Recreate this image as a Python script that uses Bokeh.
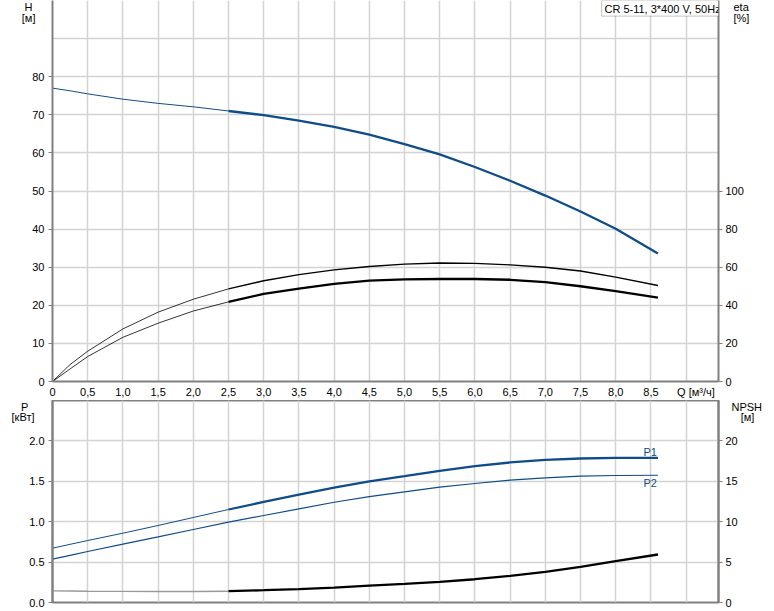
from bokeh.plotting import figure
from bokeh.models import Range1d, LinearAxis, FixedTicker, Label, BoxAnnotation
from bokeh.layouts import column
from bokeh.embed import file_html
from bokeh.resources import INLINE

# ---------------- data ----------------
q = [0, 0.25, 0.5, 1.0, 1.5, 2.0, 2.5, 3.0, 3.5, 4.0, 4.5, 5.0, 5.5, 6.0, 6.5, 7.0, 7.5, 8.0, 8.6]
head = [77.0, 76.3, 75.5, 74.1, 73.0, 72.1, 71.0, 69.9, 68.5, 66.8, 64.8, 62.3, 59.6, 56.3, 52.7, 48.8, 44.6, 40.1, 33.6]
eta_pump = [0, 8.9, 15.9, 27.6, 36.4, 43.2, 48.6, 52.9, 56.1, 58.6, 60.4, 61.6, 62.2, 62.0, 61.2, 60.0, 58.0, 54.8, 50.4]
eta_total = [0, 6.6, 13.1, 23.2, 30.6, 37.0, 41.8, 46.0, 48.8, 51.2, 53.0, 53.6, 53.8, 53.8, 53.4, 52.2, 50.0, 47.4, 44.0]
p1 = [0.672, 0.72, 0.767, 0.858, 0.953, 1.052, 1.151, 1.245, 1.336, 1.423, 1.50, 1.563, 1.629, 1.687, 1.733, 1.765, 1.782, 1.790, 1.790]
p2 = [0.536, 0.584, 0.631, 0.722, 0.812, 0.903, 0.994, 1.077, 1.158, 1.241, 1.31, 1.369, 1.427, 1.473, 1.514, 1.542, 1.563, 1.572, 1.575]
npsh = [1.44, 1.42, 1.40, 1.38, 1.37, 1.37, 1.40, 1.52, 1.65, 1.85, 2.10, 2.31, 2.55, 2.88, 3.29, 3.79, 4.41, 5.11, 5.94]

x_ticks = [0, 0.5, 1.0, 1.5, 2.0, 2.5, 3.0, 3.5, 4.0, 4.5, 5.0, 5.5, 6.0, 6.5, 7.0, 7.5, 8.0, 8.5, 9.14]
x_tick_labels = ["0", "0,5", "1,0", "1,5", "2,0", "2,5", "3,0", "3,5", "4,0", "4,5",
                 "5,0", "5,5", "6,0", "6,5", "7,0", "7,5", "8,0", "8,5", "Q [м³/ч]"]
x_grid = [0.5, 1.0, 1.5, 2.0, 2.5, 3.0, 3.5, 4.0, 4.5, 5.0, 5.5, 6.0, 6.5, 7.0, 7.5, 8.0, 8.5, 9.0]
h_ticks = [0, 10, 20, 30, 40, 50, 60, 70, 80]
h_grid = [10, 20, 30, 40, 50, 60, 70, 80, 90]
eta_ticks = [0, 20, 40, 60, 80, 100]
p_ticks = [0, 0.5, 1.0, 1.5, 2.0]
p_tick_labels = ["0.0", "0.5", "1.0", "1.5", "2.0"]
p_grid = [0.5, 1.0, 1.5, 2.0]
npsh_ticks = [0, 5, 10, 15, 20]

# axis titles, placed as extra tick labels (name above unit)
h_title = {98.7: "H\u00a0", 95.5: "[м]"}
eta_title = {197.4: "eta", 191.0: "[%]"}
p_title = {2.454: "P\u00a0\u00a0", 2.297: "[кВт]"}
npsh_title = {24.54: "NPSH", 22.9: "\u00a0\u00a0\u00a0[м]"}

title_text = "CR 5-11, 3*400 V, 50Hz"

# ---------------- style ----------------
BLUE = "#0f4c8a"
GRID = "#d3d3d3"
AXIS = "#808080"
FONT = "Liberation Sans"
FS = "11px"
XMAX = 9.46
SPLIT = q.index(2.5)


def style_axis(ax, tick_out=4, standoff=4, line=True):
    ax.axis_line_color = AXIS if line else None
    ax.axis_line_width = 2
    ax.major_tick_line_color = AXIS if tick_out > 0 else None
    ax.major_tick_line_width = 1
    ax.major_tick_out = tick_out
    ax.major_tick_in = 0
    ax.minor_tick_line_color = None
    ax.major_label_text_font = FONT
    ax.major_label_text_font_size = FS
    ax.major_label_text_color = "#000000"
    ax.major_label_standoff = standoff


def title_axis(p, labels, standoff, side, y_range_name="default"):
    ticks = list(labels.keys())
    ax = LinearAxis(y_range_name=y_range_name, ticker=FixedTicker(ticks=ticks),
                    major_label_overrides=dict(labels))
    style_axis(ax, 0, standoff, line=False)
    p.add_layout(ax, side)


def base_fig(frame_height, y_range, min_border_bottom, x_loc):
    p = figure(frame_width=666, frame_height=frame_height, x_range=Range1d(0, XMAX), y_range=y_range,
               output_backend="svg", toolbar_location=None, x_axis_location=x_loc,
               min_border_left=52, min_border_right=44, min_border_top=0,
               min_border_bottom=min_border_bottom)
    p.background_fill_color = "white"
    p.border_fill_color = "white"
    p.xgrid.ticker = FixedTicker(ticks=x_grid)
    p.xgrid.grid_line_color = GRID
    p.xgrid.grid_line_width = 1.5
    p.ygrid.grid_line_color = GRID
    p.ygrid.grid_line_width = 1.5
    return p


# ---------------- top: H / eta ----------------
top = base_fig(381, Range1d(0, 100), 19, "below")
top.outline_line_color = None
top.ygrid.ticker = FixedTicker(ticks=h_grid)
top.yaxis.ticker = FixedTicker(ticks=h_ticks)
style_axis(top.yaxis[0], 4, 4)
top.xaxis.ticker = FixedTicker(ticks=x_ticks)
top.xaxis.major_label_overrides = {t: s for t, s in zip(x_ticks, x_tick_labels)}
style_axis(top.xaxis[0], 0, 4)

top.extra_y_ranges = {"eta": Range1d(0, 200)}
eta_axis = LinearAxis(y_range_name="eta", ticker=FixedTicker(ticks=eta_ticks))
style_axis(eta_axis, 4, 3)
top.add_layout(eta_axis, "right")

title_axis(top, h_title, -6, "left")
title_axis(top, eta_title, -13, "right", "eta")

# head curve
top.line(q[:SPLIT + 1], head[:SPLIT + 1], line_color=BLUE, line_width=1)
top.line(q[SPLIT:], head[SPLIT:], line_color=BLUE, line_width=2.3)
# efficiency curves
top.line(q[:SPLIT + 1], eta_pump[:SPLIT + 1], line_color="#000000", line_width=0.8, y_range_name="eta")
top.line(q[SPLIT:], eta_pump[SPLIT:], line_color="#000000", line_width=1.4, y_range_name="eta")
top.line(q[:SPLIT + 1], eta_total[:SPLIT + 1], line_color="#000000", line_width=0.8, y_range_name="eta")
top.line(q[SPLIT:], eta_total[SPLIT:], line_color="#000000", line_width=2.3, y_range_name="eta")

# title box
top.add_layout(BoxAnnotation(left=7.80, right=XMAX, top=100, bottom=95.9,
                             fill_color="white", fill_alpha=1.0,
                             line_color="#404040", line_width=1))
top.add_layout(Label(x=7.84, y=97.9, text=title_text, text_font=FONT, text_font_size=FS,
                     text_color="#000000", text_align="left", text_baseline="middle"))

# ---------------- bottom: P / NPSH ----------------
bot = base_fig(202, Range1d(0, 2.5), 8, None)
bot.outline_line_color = AXIS
bot.outline_line_width = 2
bot.ygrid.ticker = FixedTicker(ticks=p_grid)
bot.yaxis.ticker = FixedTicker(ticks=p_ticks)
bot.yaxis.major_label_overrides = {t: s for t, s in zip(p_ticks, p_tick_labels)}
style_axis(bot.yaxis[0], 4, 4)

bot.extra_y_ranges = {"npsh": Range1d(0, 25)}
npsh_axis = LinearAxis(y_range_name="npsh", ticker=FixedTicker(ticks=npsh_ticks))
style_axis(npsh_axis, 4, 3)
bot.add_layout(npsh_axis, "right")

title_axis(bot, p_title, -8, "left")
title_axis(bot, npsh_title, -9, "right", "npsh")

bot.line(q[:SPLIT + 1], p1[:SPLIT + 1], line_color=BLUE, line_width=1)
bot.line(q[SPLIT:], p1[SPLIT:], line_color=BLUE, line_width=2.3)
bot.line(q, p2, line_color=BLUE, line_width=1.2)
bot.line(q[:SPLIT + 1], npsh[:SPLIT + 1], line_color="#9a9a9a", line_width=1.4, y_range_name="npsh")
bot.line(q[SPLIT:], npsh[SPLIT:], line_color="#000000", line_width=2.3, y_range_name="npsh")

for txt, yv in (("P1", 1.864), ("P2", 1.473)):
    bot.add_layout(Label(x=8.49, y=yv, text=txt, text_font=FONT, text_font_size=FS,
                         text_color=BLUE, text_align="center", text_baseline="middle"))

layout = column(top, bot, spacing=0)

open("out.html", "w").write(file_html(layout, INLINE))
